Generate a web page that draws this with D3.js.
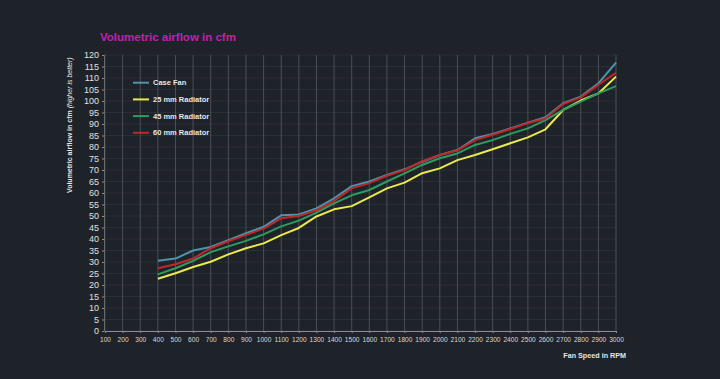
<!DOCTYPE html>
<html>
<head>
<meta charset="utf-8">
<script src="https://cdn.jsdelivr.net/npm/d3@7"></script>
<style>
  html, body { margin: 0; padding: 0; background: #1e2229; }
  svg { display: block; }
</style>
</head>
<body>
<div id="chart"></div>
<script>
// fan speed steps (x axis)
var rpm = [400, 500, 600, 700, 800, 900, 1000, 1100, 1200, 1300, 1400, 1500, 1600, 1700,
           1800, 1900, 2000, 2100, 2200, 2300, 2400, 2500, 2600, 2700, 2800, 2900, 3000];
var xTicks = d3.range(100, 3001, 100);
var yTicks = d3.range(0, 121, 5);

var seriesNames = ['Case Fan', '25 mm Radiator', '45 mm Radiator', '60 mm Radiator'];
var seriesColors = ['#4f93ac', '#eaea4c', '#2e9c5e', '#c0292c'];

var caseFan = [30.5, 31.5, 35, 36.5, 39.5, 42.5, 45.3, 50.3, 50.7, 53.3, 57.7, 63, 65, 67.8,
               70.3, 73.5, 76.5, 78.7, 83.8, 85.7, 88.1, 90.6, 92.9, 99, 101.9, 107.7, 116.7];
var rad25 = [22.7, 25.1, 27.8, 30.1, 33.3, 36, 38.1, 41.7, 44.8, 49.8, 52.9, 54.3, 58.1, 62,
             64.5, 68.6, 70.7, 74.3, 76.5, 79, 81.6, 84.2, 87.7, 96.1, 100.2, 103.3, 110.6];
var rad45 = [24.6, 27.3, 30.5, 34.3, 36.8, 39.2, 42, 45.5, 48, 51.5, 55.5, 59, 61.3, 65,
             68.5, 72.2, 75.1, 77.2, 80.9, 83, 85.7, 88.1, 91.7, 96.1, 99.7, 103.3, 106.5];
var rad60 = [27.3, 29, 31.5, 36, 39, 41.8, 44.5, 49, 50, 52.5, 56.5, 62, 64.3, 67.5,
             70, 73.8, 76.5, 78.5, 83, 85.3, 87.8, 90.4, 92.4, 98.7, 101.6, 107, 112.3];

var seriesValues = [caseFan, rad25, rad45, rad60];

function drawChart() {
    var width = 720
      , height = 379
      , margin = { top: 55, left: 105, bottom: 48, right: 104 };

    var svg = d3.select('#chart')
        .append('svg')
        .attr('width', width)
        .attr('height', height)
        .style('font-family', '"Liberation Sans", Arial, sans-serif');

    svg.append('rect')
        .attr('width', width)
        .attr('height', height)
        .attr('fill', '#1e2229');

    var x = d3.scaleLinear()
        .domain([100, 3000])
        .range([margin.left, width - margin.right]);

    var y = d3.scaleLinear()
        .domain([0, 120])
        .range([height - margin.bottom, margin.top]);

    // horizontal grid, very faint
    svg.append('g')
        .selectAll('line')
        .data(yTicks)
        .enter()
        .append('line')
        .attr('x1', x(100))
        .attr('x2', x(3000))
        .attr('y1', function (d) { return y(d); })
        .attr('y2', function (d) { return y(d); })
        .attr('stroke', '#2a2e35')
        .attr('stroke-width', 1);

    // vertical grid
    svg.append('g')
        .selectAll('line')
        .data(xTicks.slice(1))
        .enter()
        .append('line')
        .attr('x1', function (d) { return x(d); })
        .attr('x2', function (d) { return x(d); })
        .attr('y1', y(120))
        .attr('y2', y(0))
        .attr('stroke', '#4b4f56')
        .attr('stroke-width', 1);

    // x axis
    var xAxis = svg.append('g')
        .attr('transform', 'translate(0,' + y(0) + ')')
        .call(d3.axisBottom(x).tickValues(xTicks).tickFormat(d3.format('d')).tickSize(2).tickPadding(4));
    xAxis.select('.domain').attr('stroke', '#8a8e94');
    xAxis.selectAll('.tick line').attr('stroke', '#8a8e94');
    xAxis.selectAll('text')
        .attr('fill', '#d8d8d8')
        .style('font-size', '6.6px');

    // y axis, with little minor ticks along the line
    var yAxis = svg.append('g')
        .attr('transform', 'translate(' + (x(100) - 1) + ',0)')
        .call(d3.axisLeft(y).tickValues(yTicks).tickFormat(d3.format('d')).tickSize(2).tickPadding(3));
    yAxis.select('.domain').attr('stroke', '#6a6e74');
    yAxis.selectAll('.tick line').attr('stroke', '#8a8e94');
    yAxis.selectAll('text')
        .attr('fill', '#e0e0e0')
        .style('font-size', '9px');

    svg.append('g')
        .selectAll('line')
        .data(d3.range(0, 121, 1))
        .enter()
        .append('line')
        .attr('x1', x(100) - 1)
        .attr('x2', x(100) + 1)
        .attr('y1', function (d) { return y(d); })
        .attr('y2', function (d) { return y(d); })
        .attr('stroke', '#5b5f65')
        .attr('stroke-width', 0.6);

    // the four series
    var line = d3.line()
        .x(function (d, i) { return x(rpm[i]); })
        .y(function (d) { return y(d); });

    svg.append('g')
        .selectAll('path')
        .data(seriesValues)
        .enter()
        .append('path')
        .attr('d', function (d) { return line(d); })
        .attr('fill', 'none')
        .attr('stroke', function (d, i) { return seriesColors[i]; })
        .attr('stroke-width', 2)
        .attr('stroke-linejoin', 'round');

    // legend
    var legend = svg.append('g')
        .selectAll('g')
        .data(seriesNames)
        .enter()
        .append('g')
        .attr('transform', function (d, i) { return 'translate(133,' + (82.7 + i * 16.7) + ')'; });

    legend.append('line')
        .attr('x1', 0)
        .attr('x2', 16)
        .attr('stroke', function (d, i) { return seriesColors[i]; })
        .attr('stroke-width', 2);

    legend.append('text')
        .text(function (d) { return d; })
        .attr('x', 20)
        .attr('y', 2.6)
        .style('font-size', '7.5px')
        .style('font-weight', 'bold')
        .style('fill', '#e6e6e6');

    // titles
    svg.append('text')
        .text('Volumetric airflow in cfm')
        .attr('x', 100)
        .attr('y', 41)
        .style('font-size', '11.5px')
        .style('font-weight', 'bold')
        .style('fill', '#c21fb2');

    var yTitle = svg.append('text')
        .attr('transform', 'translate(72,193) rotate(-90)')
        .style('font-size', '7px')
        .style('fill', '#e6e6e6');
    yTitle.append('tspan')
        .text('Volumetric airflow in cfm ')
        .style('font-weight', 'bold');
    yTitle.append('tspan')
        .text('(higher is better)')
        .style('font-style', 'italic');

    svg.append('text')
        .text('Fan Speed in RPM')
        .attr('x', 626)
        .attr('y', 358)
        .attr('text-anchor', 'end')
        .style('font-size', '7.2px')
        .style('font-weight', 'bold')
        .style('fill', '#e6e6e6');
}

drawChart();
</script>
</body>
</html>
